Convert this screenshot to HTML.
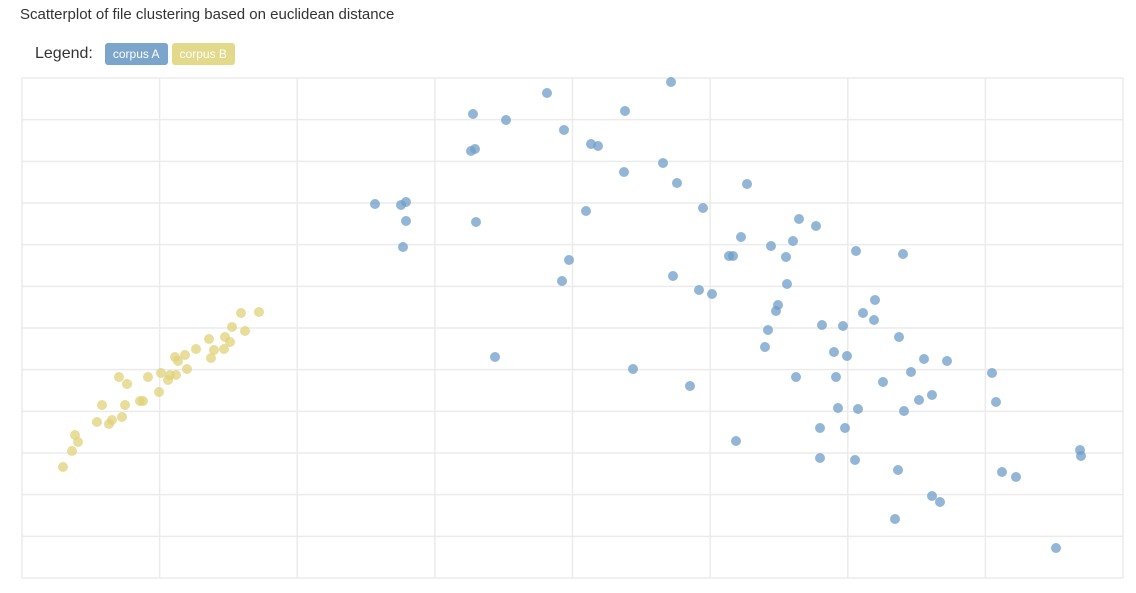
<!DOCTYPE html>
<html><head><meta charset="utf-8">
<style>
body{margin:0;background:#fff;font-family:"Liberation Sans",sans-serif;width:1136px;height:593px;overflow:hidden;position:relative}
#title{position:absolute;left:20px;top:6px;font-size:15px;color:#333}
#legend{position:absolute;left:35px;top:43px;font-size:16px;color:#333;display:flex;align-items:center}
.badge{display:inline-block;font-size:12px;color:#fff;padding:4px 8px;border-radius:3px;margin-left:4px}
svg{position:absolute;left:0;top:0}
</style></head><body>
<div id="title">Scatterplot of file clustering based on euclidean distance</div>
<div id="legend"><span style="margin-right:8px">Legend:</span><span class="badge" style="background:#7ba5cb">corpus A</span><span class="badge" style="background:#e2d98a">corpus B</span></div>
<svg id="chart" width="1136" height="593"></svg>
<script>
const aX=[649,525,451,603,484,542,569,576,449,453,641,602,655,725,353,379,384,564,681,384,454,777,794,719,749,771,381,834,881,707,711,764,547,651,540,765,677,690,853,756,754,841,852,800,821,746,877,743,812,825,473,902,925,611,889,970,774,814,861,668,910,897,974,816,836,882,798,823,714,1058,1059,798,833,876,980,994,910,918,873,1034];
const aY=[496,485,464,467,458,448,434,432,427,429,415,406,395,394,374,373,376,367,370,357,356,359,352,341,332,337,331,327,324,322,322,321,318,302,297,294,288,284,278,273,267,265,258,253,252,248,241,231,226,222,221,219,217,209,206,205,201,201,196,192,183,178,176,170,169,167,150,150,137,128,122,120,118,108,106,101,82,76,59,30];
const bX=[237,219,210,223,187,203,208,174,192,202,153,163,156,189,165,139,154,148,97,126,146,105,137,118,121,80,103,100,90,87,75,53,56,50,41];
const bY=[266,265,251,247,239,241,236,229,228,229,221,223,217,220,209,205,203,203,201,201,198,194,186,177,177,173,173,161,158,154,156,143,136,127,111];
const xDomain=[0,1101], yDomain=[0,500];
const L=22,R=1123,T=78,B=578;
const sx=v=>L+(v-xDomain[0])/(xDomain[1]-xDomain[0])*(R-L);
const sy=v=>B-(v-yDomain[0])/(yDomain[1]-yDomain[0])*(B-T);
const svg=document.getElementById('chart');
const NS='http://www.w3.org/2000/svg';
function mk(t,a){const e=document.createElementNS(NS,t);for(const k in a)e.setAttribute(k,a[k]);svg.appendChild(e);return e;}
for(let i=0;i<=8;i++){const x=L+i*(R-L)/8;
const g=mk('line',{x1:x,x2:x,y1:T,y2:B,stroke:'#ebebeb','stroke-width':1.5});

}
for(let i=0;i<=12;i++){const y=T+i*(B-T)/12;
const g=mk('line',{x1:L,x2:R,y1:y,y2:y,stroke:'#ebebeb','stroke-width':1.5});

}
aX.forEach((v,i)=>{const c=mk('circle',{cx:sx(v),cy:sy(aY[i]),r:5,fill:'#6f9dc8','fill-opacity':0.75});

});
bX.forEach((v,i)=>{const c=mk('circle',{cx:sx(v),cy:sy(bY[i]),r:5,fill:'#e0d27a','fill-opacity':0.75});

});
</script>
</body></html>
